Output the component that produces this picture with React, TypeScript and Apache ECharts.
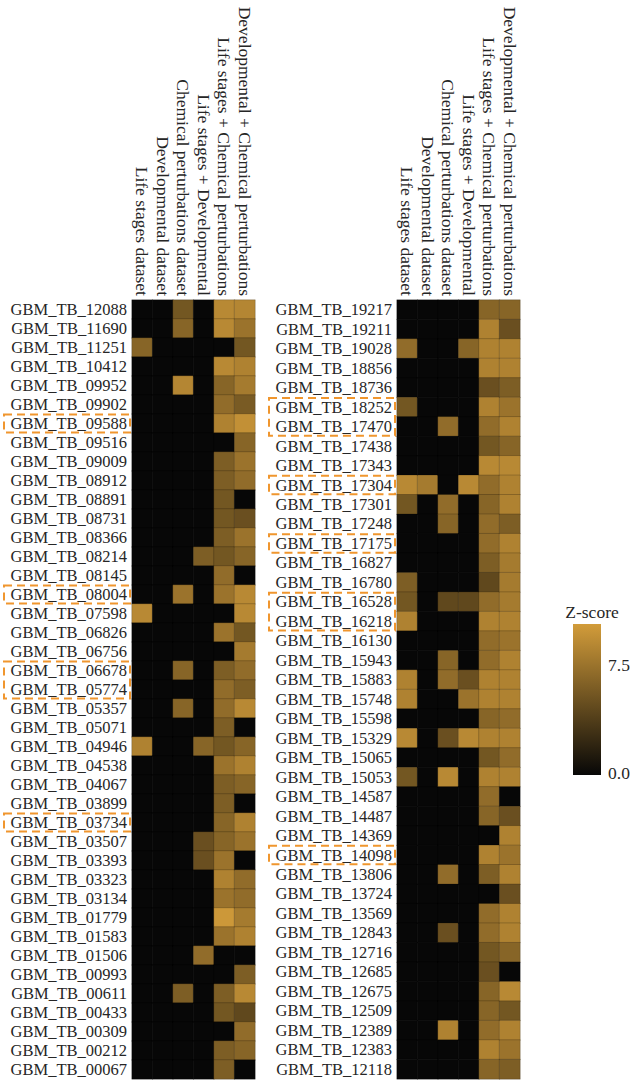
import React, { useEffect, useRef } from 'react';
import * as echarts from 'echarts';

const columns = [
  'Life stages dataset',
  'Developmental dataset',
  'Chemical perturbations dataset',
  'Life stages + Developmental',
  'Life stages + Chemical perturbations',
  'Developmental + Chemical perturbations',
];

const leftGenes = [
  'GBM_TB_12088', 'GBM_TB_11690', 'GBM_TB_11251', 'GBM_TB_10412', 'GBM_TB_09952', 'GBM_TB_09902',
  'GBM_TB_09588', 'GBM_TB_09516', 'GBM_TB_09009', 'GBM_TB_08912', 'GBM_TB_08891', 'GBM_TB_08731',
  'GBM_TB_08366', 'GBM_TB_08214', 'GBM_TB_08145', 'GBM_TB_08004', 'GBM_TB_07598', 'GBM_TB_06826',
  'GBM_TB_06756', 'GBM_TB_06678', 'GBM_TB_05774', 'GBM_TB_05357', 'GBM_TB_05071', 'GBM_TB_04946',
  'GBM_TB_04538', 'GBM_TB_04067', 'GBM_TB_03899', 'GBM_TB_03734', 'GBM_TB_03507', 'GBM_TB_03393',
  'GBM_TB_03323', 'GBM_TB_03134', 'GBM_TB_01779', 'GBM_TB_01583', 'GBM_TB_01506', 'GBM_TB_00993',
  'GBM_TB_00611', 'GBM_TB_00433', 'GBM_TB_00309', 'GBM_TB_00212', 'GBM_TB_00067',
];

const leftLifeStages = [0, 0, 6.5, 0, 0, 0, 0, 0, 0, 0, 0, 0, 0, 0, 0, 0, 9, 0, 0, 0, 0, 0, 0, 8.5, 0, 0, 0, 0, 0, 0, 0, 0, 0, 0, 0, 0, 0, 0, 0, 0, 0];
const leftDevelopmental = [0, 0, 0, 0, 0, 0, 0, 0, 0, 0, 0, 0, 0, 0, 0, 0, 0, 0, 0, 0, 0, 0, 0, 0, 0, 0, 0, 0, 0, 0, 0, 0, 0, 0, 0, 0, 0, 0, 0, 0, 0];
const leftChemical = [5.5, 6.5, 0, 0, 8.8, 0, 0, 0, 0, 0, 0, 0, 0, 0, 0, 7.5, 0, 0, 0, 6.5, 0, 6.5, 0, 0, 0, 0, 0, 0, 0, 0, 0, 0, 0, 0, 0, 0, 6, 0, 0, 0, 0];
const leftLifeDev = [0, 0, 0, 0, 0, 0, 0, 0, 0, 0, 0, 0, 0, 6, 0, 0, 0, 0, 0, 0, 0, 0, 0, 6.5, 0, 0, 0, 0, 5, 5, 0, 0, 0, 0, 7, 0, 0, 0, 0, 0, 0];
const leftLifeChem = [9, 9, 0, 9, 6.5, 7, 8.5, 0, 6, 6, 5.5, 5.5, 6, 5.5, 7, 7.5, 0, 7.5, 0, 6, 7, 7, 6, 5.5, 7.5, 6, 6, 6.5, 6.5, 7.5, 8.5, 7.5, 10, 7.5, 0, 0, 6, 5.5, 0, 6, 6];
const leftDevChem = [8.8, 7.5, 5.5, 8.5, 8, 5.8, 9.5, 6.5, 7.5, 7, 0, 5, 7.5, 6.5, 0, 9, 9, 5.5, 8, 7, 6, 9, 0, 6.5, 8.5, 6.5, 0, 8.5, 7.5, 0, 7, 7, 8, 8.5, 0, 6, 9, 4.5, 7, 6.5, 0];

const rightGenes = [
  'GBM_TB_19217', 'GBM_TB_19211', 'GBM_TB_19028', 'GBM_TB_18856', 'GBM_TB_18736', 'GBM_TB_18252',
  'GBM_TB_17470', 'GBM_TB_17438', 'GBM_TB_17343', 'GBM_TB_17304', 'GBM_TB_17301', 'GBM_TB_17248',
  'GBM_TB_17175', 'GBM_TB_16827', 'GBM_TB_16780', 'GBM_TB_16528', 'GBM_TB_16218', 'GBM_TB_16130',
  'GBM_TB_15943', 'GBM_TB_15883', 'GBM_TB_15748', 'GBM_TB_15598', 'GBM_TB_15329', 'GBM_TB_15065',
  'GBM_TB_15053', 'GBM_TB_14587', 'GBM_TB_14487', 'GBM_TB_14369', 'GBM_TB_14098', 'GBM_TB_13806',
  'GBM_TB_13724', 'GBM_TB_13569', 'GBM_TB_12843', 'GBM_TB_12716', 'GBM_TB_12685', 'GBM_TB_12675',
  'GBM_TB_12509', 'GBM_TB_12389', 'GBM_TB_12383', 'GBM_TB_12118',
];

const rightLifeStages = [0, 0, 7, 0, 0, 5.5, 0, 0, 0, 9, 5.5, 0, 0, 0, 6, 5.5, 8.5, 0, 0, 8.5, 8.5, 0, 9, 0, 5.5, 0, 0, 0, 0, 0, 0, 0, 0, 0, 0, 0, 0, 0, 0, 0];
const rightDevelopmental = [0, 0, 0, 0, 0, 0, 0, 0, 0, 8, 0, 0, 0, 0, 0, 0, 0, 0, 0, 0, 0, 0, 0, 0, 0, 0, 0, 0, 0, 0, 0, 0, 0, 0, 0, 0, 0, 0, 0, 0];
const rightChemical = [0, 0, 0, 0, 0, 0, 7, 0, 0, 0, 7, 6.5, 0, 0, 0, 4.5, 0, 0, 6.5, 7, 0, 0, 5, 0, 9, 0, 0, 0, 0, 7, 0, 0, 5, 0, 0, 0, 0, 8.5, 0, 0];
const rightLifeDev = [0, 0, 6.5, 0, 0, 0, 0, 0, 0, 9, 0, 0, 0, 0, 0, 4.5, 0, 0, 0, 5, 7.5, 0, 9, 0, 0, 0, 0, 0, 0, 0, 0, 0, 0, 0, 0, 0, 0, 0, 0, 0];
const rightLifeChem = [6.5, 8.5, 8.5, 8.5, 5, 8.5, 7, 5.5, 9, 7, 6.5, 7, 7, 6, 4.5, 7, 8.5, 7, 7, 8.5, 8.5, 6.5, 8.5, 5.5, 8.5, 7, 6.5, 0, 8.5, 6, 0, 7, 7, 5.5, 5, 6.5, 6.5, 7, 8.5, 6.5];
const rightDevChem = [6.5, 5, 8.5, 8.5, 6, 7.5, 8.5, 6.5, 9, 8.5, 8.5, 6, 8.5, 8, 8, 8, 8.5, 7.5, 8.5, 8.5, 8.5, 7, 8.5, 7, 8.5, 0, 5, 8.5, 7.5, 8.5, 5, 8.5, 8.5, 6.5, 0, 9, 5.5, 8.5, 7.5, 6];

const leftHighlighted = ['GBM_TB_09588', 'GBM_TB_08004', 'GBM_TB_06678', 'GBM_TB_05774', 'GBM_TB_03734'];
const rightHighlighted = ['GBM_TB_18252', 'GBM_TB_17470', 'GBM_TB_17304', 'GBM_TB_17175', 'GBM_TB_16528', 'GBM_TB_16218', 'GBM_TB_14098'];

const zMin = 0;
const zMax = 10.3;
const zTicks = [0, 7.5];

const lowColor = '#070707';
const highColor = '#d29c3a';
const FONT = "'Liberation Serif', 'Times New Roman', Times, serif";
const TEXT_COLOR = '#262626';

function buildData(cols: number[][]) {
  const out: number[][] = [];
  cols.forEach((col, c) => {
    col.forEach((v, r) => out.push([c, r, v]));
  });
  return out;
}

export default function App() {
  const ref = useRef<HTMLDivElement>(null);
  useEffect(() => {
    document.body.style.margin = '0';
    if (!ref.current) return;
    const chart = echarts.init(ref.current, undefined, { renderer: 'svg' });
    const xAxisBase = {
      type: 'category' as const,
      data: columns,
      position: 'top' as const,
      axisLine: { show: false },
      axisTick: { show: false },
      splitLine: { show: false },
      axisLabel: {
        rotate: 90,
        interval: 0,
        margin: 4,
        fontSize: 17.5,
        fontFamily: FONT,
        color: TEXT_COLOR,
      },
    };
    const yAxisBase = {
      type: 'category' as const,
      inverse: true,
      axisLine: { show: false },
      axisTick: { show: false },
      splitLine: { show: false },
      axisLabel: {
        interval: 0,
        margin: 5,
        fontSize: 16.5,
        fontFamily: FONT,
        color: TEXT_COLOR,
      },
    };
    const cellStyle = { borderColor: 'rgba(0,0,0,0.28)', borderWidth: 0.7 };
    chart.setOption({
      animation: false,
      backgroundColor: '#ffffff',
      grid: [
        { left: 132, top: 300, width: 123, height: 779 },
        { left: 397, top: 300, width: 123, height: 779 },
      ],
      xAxis: [
        { ...xAxisBase, gridIndex: 0 },
        { ...xAxisBase, gridIndex: 1 },
      ],
      yAxis: [
        { ...yAxisBase, gridIndex: 0, data: leftGenes },
        { ...yAxisBase, gridIndex: 1, data: rightGenes },
      ],
      visualMap: {
        show: false,
        type: 'continuous',
        min: zMin,
        max: zMax,
        dimension: 2,
        inRange: { color: [lowColor, highColor] },
      },
      series: [
        {
          type: 'heatmap',
          xAxisIndex: 0,
          yAxisIndex: 0,
          data: buildData([leftLifeStages, leftDevelopmental, leftChemical, leftLifeDev, leftLifeChem, leftDevChem]),
          itemStyle: cellStyle,
          emphasis: { disabled: true },
        },
        {
          type: 'heatmap',
          xAxisIndex: 1,
          yAxisIndex: 1,
          data: buildData([rightLifeStages, rightDevelopmental, rightChemical, rightLifeDev, rightLifeChem, rightDevChem]),
          itemStyle: cellStyle,
          emphasis: { disabled: true },
        },
      ],
    });

    const graphics: any[] = [];
    const addBoxes = (genes: string[], highlighted: string[], axisIndex: number) => {
      const y0 = chart.convertToPixel({ yAxisIndex: axisIndex }, genes[0]) as number;
      const y1 = chart.convertToPixel({ yAxisIndex: axisIndex }, genes[1]) as number;
      const rowH = Math.abs(y1 - y0);
      const c0 = chart.convertToPixel({ xAxisIndex: axisIndex }, columns[0]) as number;
      const c1 = chart.convertToPixel({ xAxisIndex: axisIndex }, columns[1]) as number;
      const gridX = c0 - Math.abs(c1 - c0) / 2;
      let i = 0;
      while (i < genes.length) {
        if (highlighted.includes(genes[i])) {
          let j = i;
          while (j + 1 < genes.length && highlighted.includes(genes[j + 1])) j++;
          const top = (chart.convertToPixel({ yAxisIndex: axisIndex }, genes[i]) as number) - rowH / 2;
          const bottom = (chart.convertToPixel({ yAxisIndex: axisIndex }, genes[j]) as number) + rowH / 2;
          graphics.push({
            type: 'rect',
            silent: true,
            shape: { x: gridX - 128, y: top + 0.5, width: 126, height: bottom - top - 1 },
            style: { fill: 'none', stroke: '#f0962e', lineWidth: 2, lineDash: [8, 5] },
            z: 10,
          });
          i = j + 1;
        } else {
          i++;
        }
      }
    };
    addBoxes(leftGenes, leftHighlighted, 0);
    addBoxes(rightGenes, rightHighlighted, 1);

    // colour legend
    const barX = 573;
    const barY = 624;
    const barW = 28;
    const barH = 151;
    graphics.push({
      type: 'rect',
      silent: true,
      shape: { x: barX, y: barY, width: barW, height: barH },
      style: {
        fill: new echarts.graphic.LinearGradient(0, 1, 0, 0, [
          { offset: 0, color: lowColor },
          { offset: 1, color: highColor },
        ]),
      },
    });
    graphics.push({
      type: 'text',
      silent: true,
      x: barX + barW / 2 + 5,
      y: barY - 12,
      style: {
        text: 'Z-score',
        fontSize: 17.5,
        fontFamily: FONT,
        fill: TEXT_COLOR,
        align: 'center',
        verticalAlign: 'middle',
      },
    });
    zTicks.forEach((t) => {
      const y = barY + barH - ((t - zMin) / (zMax - zMin)) * barH;
      graphics.push({
        type: 'text',
        silent: true,
        x: barX + barW + 7,
        y: Math.min(y, barY + barH - 2),
        style: {
          text: t.toFixed(1),
          fontSize: 17.5,
          fontFamily: FONT,
          fill: TEXT_COLOR,
          align: 'left',
          verticalAlign: 'middle',
        },
      });
    });
    chart.setOption({ graphic: graphics });

    return () => chart.dispose();
  }, []);
  return <div ref={ref} style={{ width: 633, height: 1083 }} />;
}
